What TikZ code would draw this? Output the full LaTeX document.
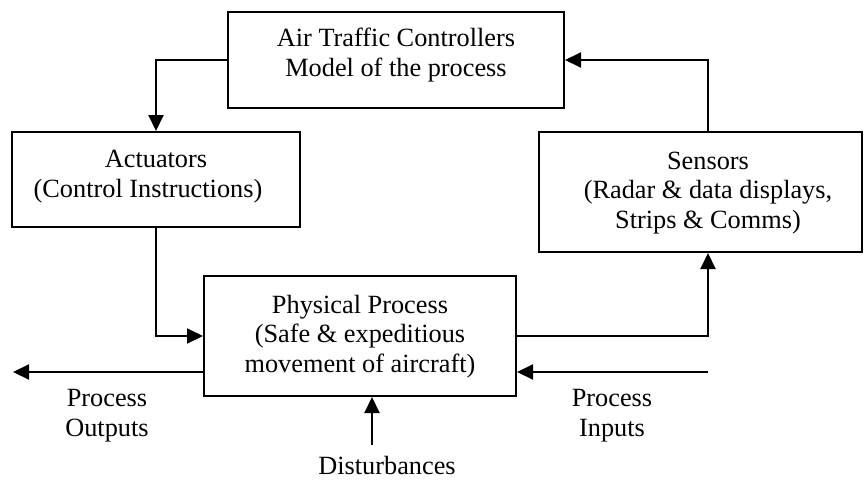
\documentclass[tikz,border=0pt]{standalone}
\usepackage{fontspec}
\setmainfont{Liberation Serif}
\usetikzlibrary{arrows.meta}
\begin{document}
\begin{tikzpicture}[x=1pt,y=-1pt,
  blockbox/.style={draw, line width=2pt, rectangle, inner sep=0pt},
  caption/.style={font=\fontsize{26.3}{29.5}\selectfont, align=center,
    anchor=base, inner sep=0pt},
  flow/.style={line width=2pt, -{Triangle[length=16pt,width=15pt]}}]
\useasboundingbox (0,0) rectangle (864,479);

% blocks of the control loop
\node[blockbox, minimum width=336pt, minimum height=96pt] (ctrl) at (396,60) {};
\node[blockbox, minimum width=288pt, minimum height=95pt] (act) at (156,179.5) {};
\node[blockbox, minimum width=323pt, minimum height=120pt] (sens) at (700.5,192) {};
\node[blockbox, minimum width=312pt, minimum height=120pt] (phys) at (360,336) {};

% block texts (anchored at the baseline of their last line)
\node[caption] (ctrltxt) at (396,76) {Air Traffic Controllers\\Model of the process};
\node[caption] (acttxt) at (156,197) {Actuators\\(Control Instructions)\kern16pt};
\node[caption] (senstxt) at (708,228) {Sensors\\(Radar \& data displays,\\Strips \& Comms)};
\node[caption] (phystxt) at (360,372) {Physical Process\\(Safe \& expeditious\\movement of aircraft)};

% free ends of the external flows
\coordinate (sx) at (708,0);
\coordinate (outend) at (13,372);
\coordinate (inbeg) at (708,372);
\coordinate (dbeg) at (372,445);

% loop connectors
\draw[flow] (ctrl.west) -| (act.north);
\draw[flow] (sx |- sens.north) |- (ctrl.east);
\draw[flow] (act.south) |- (phys.west);
\draw[flow] (phys.east) -| (sx |- sens.south);

% process outputs, inputs and disturbances
\draw[flow] (phys.west |- outend) -- (outend);
\draw[flow] (inbeg) -- (phys.east |- inbeg);
\draw[flow] (dbeg) -- (dbeg |- phys.south);

\node[caption] (outtxt) at (107,436) {Process\\Outputs};
\node[caption] (intxt) at (612,436) {Process\\Inputs};
\node[caption] (disttxt) at (387,474) {Disturbances};
\end{tikzpicture}
\end{document}
